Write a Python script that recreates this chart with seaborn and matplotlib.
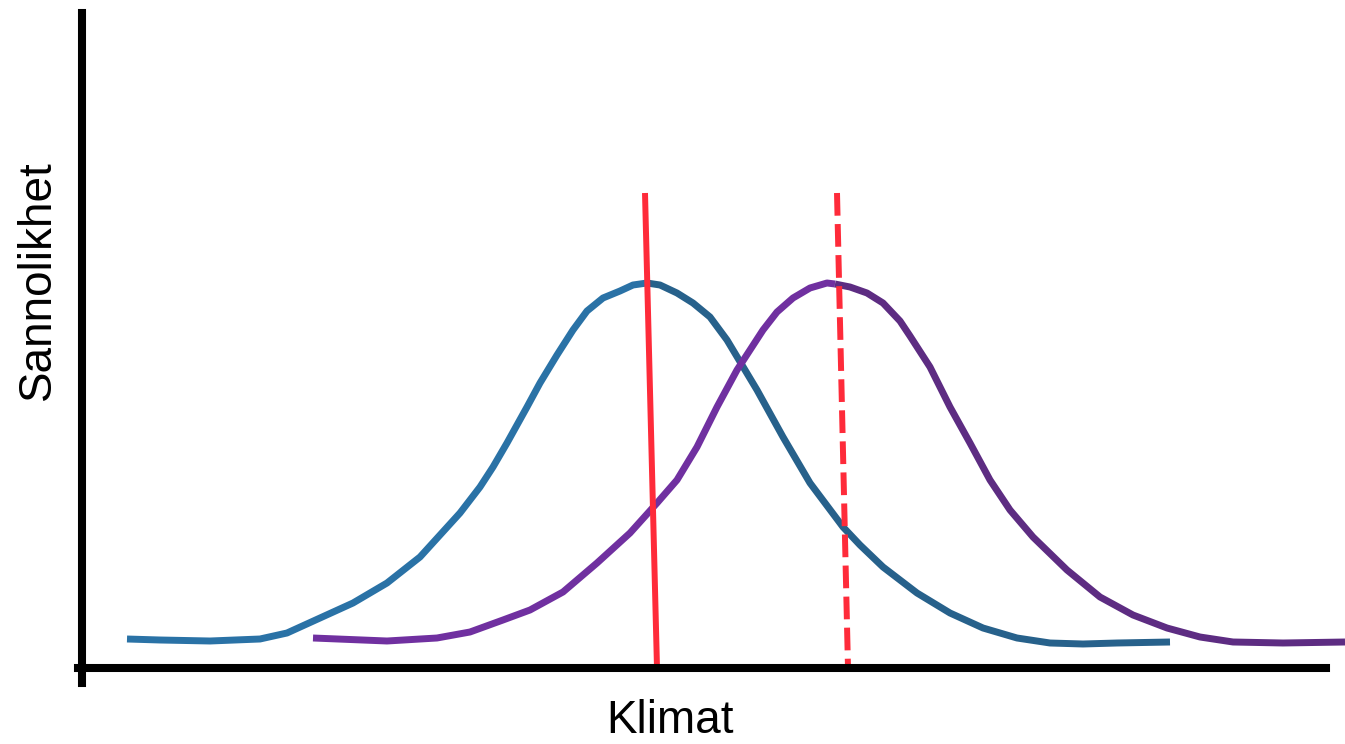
import matplotlib
matplotlib.use("Agg")
import matplotlib.pyplot as plt
import seaborn as sns

sns.set_theme(style="white")
plt.rcParams["font.family"] = ["Liberation Sans", "DejaVu Sans"]

# --- Data (schematic units) ---
# current climate, rising side then falling side (split at the peak)
blue_rise_x = [4.5, 7.8, 12.8, 17.8, 20.5, 23.8, 27.1, 30.5, 33.8, 35.8, 37.8, 39.8,
               41.1, 42.5, 44.5, 45.8, 47.5, 49.1, 50.5, 52.1, 53.8, 55.1, 56.5]
blue_rise_y = [2.9, 2.8, 2.7, 2.9, 3.5, 5.0, 6.5, 8.5, 11.1, 13.3, 15.5, 18.1,
               20.1, 22.5, 26.1, 28.5, 31.3, 33.8, 35.7, 37.0, 37.7, 38.3, 38.5]
blue_fall_x = [56.5, 57.8, 59.5, 61.1, 62.8, 64.5, 67.5, 70.1, 72.8, 76.1, 77.8, 80.1,
               83.5, 86.8, 90.1, 93.5, 96.8, 100.1, 103.5, 108.8]
blue_fall_y = [38.5, 38.3, 37.5, 36.5, 35.1, 32.8, 27.8, 23.1, 18.5, 14.1, 12.3, 10.1,
               7.5, 5.5, 4.0, 3.0, 2.5, 2.4, 2.5, 2.6]

# shifted (future) climate
purple_rise_x = [23.1, 30.5, 35.5, 38.8, 42.1, 44.8, 48.1, 51.5, 54.8, 57.5, 59.5, 61.5,
                 63.5, 65.5, 66.8, 68.1, 69.5, 71.1, 72.8, 74.5, 75.3]
purple_rise_y = [3.0, 2.7, 3.0, 3.6, 4.8, 5.8, 7.6, 10.5, 13.5, 16.5, 18.8, 22.1,
                 26.1, 29.8, 31.8, 33.8, 35.6, 37.0, 38.0, 38.5, 38.4]
purple_fall_x = [75.3, 76.8, 78.5, 80.1, 81.8, 82.8, 84.8, 86.8, 88.8, 90.8, 92.8, 95.1,
                 98.5, 101.8, 105.1, 108.5, 111.8, 115.1, 120.1, 126.3]
purple_fall_y = [38.4, 38.1, 37.5, 36.5, 34.7, 33.2, 30.1, 26.1, 22.5, 18.8, 15.8, 13.1,
                 9.8, 7.1, 5.3, 4.0, 3.1, 2.6, 2.5, 2.6]

# mean markers (top, bottom)
mean_now_x = [56.3, 57.5]
mean_future_x = [75.5, 76.6]
mean_y = [47.5, 0.0]

# --- Plot ---
fig = plt.figure(figsize=(13.45, 7.44), dpi=100)
ax = fig.add_axes([78 / 1345, 61 / 744, 1269 / 1345, 670 / 744])

curve_lw = 5.0
segments = [
    (blue_rise_x, blue_rise_y, "#2a72a6"),
    (blue_fall_x, blue_fall_y, "#27618b"),
    (purple_rise_x, purple_rise_y, "#7030a0"),
    (purple_fall_x, purple_fall_y, "#5d2c82"),
]
for xs, ys, c in segments:
    sns.lineplot(x=xs, y=ys, ax=ax, color=c, linewidth=curve_lw, sort=False,
                 estimator=None, solid_capstyle="butt", solid_joinstyle="round")

sns.lineplot(x=mean_now_x, y=mean_y, ax=ax, color="#fe2b3a", linewidth=4.3,
             sort=False, estimator=None, solid_capstyle="butt")
sns.lineplot(x=mean_future_x, y=mean_y, ax=ax, color="#fe2b3a", linewidth=4.3,
             sort=False, estimator=None, linestyle=(0, (3.8, 1.4)),
             dash_capstyle="butt")

ax.set_xlim(-0.4, 126.5)
ax.set_ylim(-1.5, 65.5)

# axes drawn as thick black lines
for side in ["top", "right"]:
    ax.spines[side].set_visible(False)
ax.spines["left"].set_position(("data", 0))
ax.spines["bottom"].set_position(("data", 0))
ax.spines["left"].set_bounds(-1.5, 65.5)
ax.spines["bottom"].set_bounds(-0.4, 124.4)
for side in ["left", "bottom"]:
    ax.spines[side].set_linewidth(5.8)
    ax.spines[side].set_color("black")
ax.set_xticks([])
ax.set_yticks([])

ax.set_xlabel("Klimat", fontsize=33, color="black")
ax.set_ylabel("Sannolikhet", fontsize=33, color="black")
ax.xaxis.set_label_coords(0.4665, -0.024)
ax.yaxis.set_label_coords(-0.0142, 0.601)

fig.savefig("out.png", dpi=100)
plt.close(fig)
